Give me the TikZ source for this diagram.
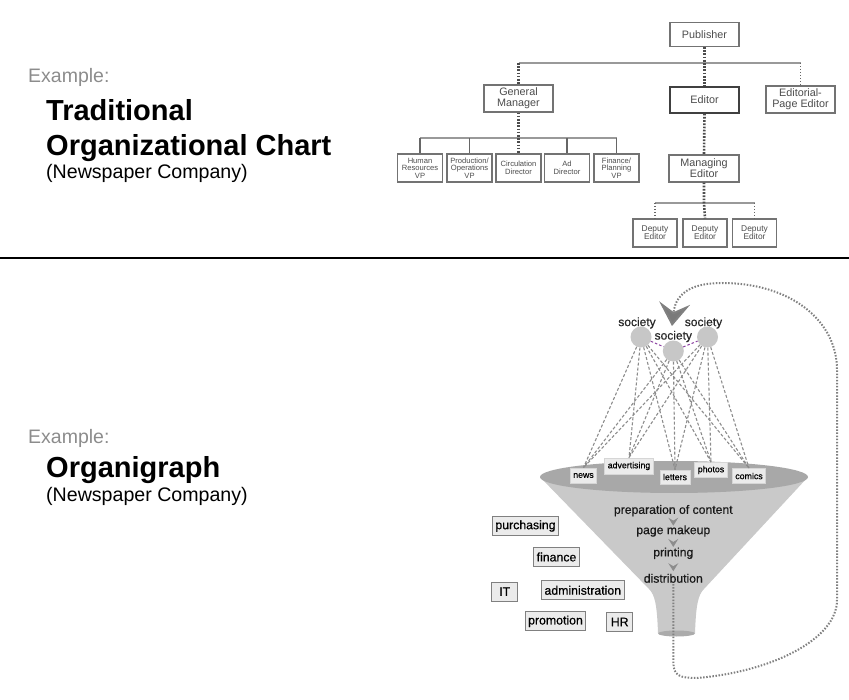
\documentclass[tikz,border=0pt]{standalone}
\usepackage{fontspec}
\setmainfont{Liberation Sans}
\newfontfamily\medsans[FakeBold=0.5]{Liberation Sans}
\usetikzlibrary{arrows.meta,calc}

\definecolor{linkpurple}{HTML}{8A3FA0}

\tikzset{
  kicker/.style={anchor=base west, inner sep=0pt, text=black!45, font=\fontsize{19.5}{22}\selectfont},
  heading/.style={anchor=base west, inner sep=0pt, font=\fontsize{29}{32}\selectfont\bfseries},
  subheading/.style={anchor=base west, inner sep=0pt, font=\fontsize{19.6}{22}\selectfont},
  orgbox/.style={draw=black!55, line width=1.1pt, fill=white, text=black!70, align=center,
    inner sep=0pt, minimum width=69pt, minimum height=26pt, font=\fontsize{10.8}{10.8}\selectfont},
  editorbox/.style={orgbox, draw=black!75, line width=1.5pt},
  smallbox/.style={orgbox, minimum width=45pt, minimum height=28pt, font=\fontsize{7.6}{7.6}\selectfont},
  deputybox/.style={orgbox, minimum width=44pt, minimum height=28pt, font=\fontsize{8.4}{8.2}\selectfont},
  busline/.style={draw=black!40, line width=1.3pt},
  stemline/.style={draw=black!60, line width=1.3pt},
  chainline/.style={draw=black!70, line width=2.6pt, dash pattern=on 1.7pt off 1.5pt},
  thinchain/.style={draw=black!60, line width=1.3pt, dash pattern=on 1.5pt off 1.5pt},
  stage/.style={inner sep=0pt, text=black!90, font=\medsans\fontsize{12.2}{14}\selectfont},
  tagbox/.style={fill=black!8, draw=black!16, line width=0.8pt, inner xsep=3pt, inner ysep=0pt,
    minimum height=15pt, font=\medsans\fontsize{8.8}{10}\selectfont},
  unitbox/.style={fill=black!8, draw=black!50, line width=1pt, inner xsep=3pt, inner ysep=0pt,
    minimum width=26pt, minimum height=19pt, font=\medsans\fontsize{12.3}{14}\selectfont},
  societydot/.style={circle, fill=black!22, minimum size=21pt, inner sep=0pt},
  societylabel/.style={inner sep=0pt, text=black!85, font=\medsans\fontsize{12}{14}\selectfont},
  feedline/.style={draw=black!45, line width=1.1pt, dash pattern=on 3pt off 2pt},
  linkline/.style={draw=linkpurple, line width=1pt, dash pattern=on 2.5pt off 2pt},
  loopline/.style={draw=black!50, line width=2pt, dash pattern=on 1.5pt off 1.6pt},
  chevron/.pic={\fill[black!45] (0,4) -- (-5,-4) -- (0,-1) -- (5,-4) -- cycle;}
}

\begin{document}
\begin{tikzpicture}[x=1pt, y=-1pt]
\useasboundingbox (0,0) rectangle (849,700);

% Titles on the left
\node[kicker] (kickertop) at (28,83) {Example:};
\node[heading] (titletopa) at (46,120.5) {Traditional};
\node[heading] (titletopb) at (46,156) {Organizational Chart};
\node[subheading] (subtop) at (46,179) {(Newspaper Company)};

\node[kicker] (kickerbot) at (28,443) {Example:};
\node[heading] (titlebot) at (46,478) {Organigraph};
\node[subheading] (subbot) at (46,501) {(Newspaper Company)};

% Draw the dividing rule
\draw[line width=2.6pt] (0,258) -- (849,258);

% Draw the boxes of the chart
\node[orgbox, minimum height=24pt] (publisher) at (704.5,34.5) {Publisher};
\node[orgbox, minimum height=27pt] (genmgr) at (518.5,98.5) {General\\Manager};
\node[editorbox] (editor) at (704.5,100) {Editor};
\node[orgbox, minimum height=27pt] (edpage) at (800.5,99.5) {Editorial-\\Page Editor};
\node[smallbox] (hrvp) at (420,168) {Human\\Resources\\VP};
\node[smallbox] (prodvp) at (469.5,168) {Production/\\Operations\\VP};
\node[smallbox] (circdir) at (518.5,168) {Circulation\\Director};
\node[smallbox] (addir) at (567,168) {Ad\\Director};
\node[smallbox] (finvp) at (616.5,168) {Finance/\\Planning\\VP};
\node[orgbox, minimum width=70pt, minimum height=27pt] (mgred) at (704,168.5) {Managing\\Editor};
\node[deputybox] (depa) at (655,233) {Deputy\\Editor};
\node[deputybox] (depb) at (705,233) {Deputy\\Editor};
\node[deputybox] (depc) at (754.5,233) {Deputy\\Editor};

% Draw the bus lines
\coordinate (topbus) at (0,63);
\coordinate (vpbus) at (0,138);
\coordinate (depbus) at (0,203);
\draw[busline] (genmgr.north |- topbus) -- (edpage.north |- topbus);
\draw[busline] (hrvp.north |- vpbus) -- (finvp.north |- vpbus);
\draw[busline] (depa.north |- depbus) -- (depc.north |- depbus);

% Draw the reporting lines
\draw[chainline] (publisher.south) -- (editor.north);
\draw[chainline] (genmgr.north |- topbus) -- (genmgr.north);
\draw[thinchain] (edpage.north |- topbus) -- (edpage.north);
\draw[chainline] (genmgr.south) -- (circdir.north);
\foreach \vp in {hrvp,prodvp,addir,finvp}
  \draw[stemline] (\vp.north |- vpbus) -- (\vp.north);
\draw[chainline] (editor.south) -- (mgred.north);
\draw[chainline] (mgred.south) -- (mgred.south |- depbus) -- (depb.north);
\draw[thinchain] (depa.north |- depbus) -- (depa.north);
\draw[thinchain] (depc.north |- depbus) -- (depc.north);

% Draw the funnel
\fill[black!21] (540,477) -- (649,589) .. controls (655,595) and (657,605) .. (658,633)
  -- (695,633) .. controls (696,605) and (698,595) .. (704,589) -- (808,477) -- cycle;
\fill[black!34] (674,477) ellipse [x radius=134, y radius=16];
\fill[black!33] (676.5,633.5) ellipse [x radius=18.5, y radius=3];

% Stages inside the funnel
\node[stage] (prep) at (673.3,510.7) {preparation of content};
\node[stage] (makeup) at (673.3,531) {page makeup};
\node[stage] (printing) at (673.3,553.3) {printing};
\node[stage] (distrib) at (673.3,578.3) {distribution};
\foreach \a/\b in {prep/makeup, makeup/printing, printing/distrib}
  \pic at ($(\a.south)!0.5!(\b.north)+(0,0.8)$) {chevron};

% Draw the feedback loop
\coordinate (loopstart) at (673.3,584);
\coordinate (bigtip) at (672,326);
\draw[loopline, -{Stealth[length=23pt, width=31pt, inset=9pt, fill=black!52]}]
  (loopstart) -- (673.3,662) .. controls (673.3,676) and (680,678) .. (697,678)
  .. controls (770,672) and (837,640) .. (837,600) -- (837,370)
  .. controls (837,320) and (790,283) .. (722,283)
  .. controls (695,283) and (676,291) .. (bigtip);

% Society and its links
\node[societydot] (socleft) at (641,337) {};
\node[societydot] (socmid) at (673.3,351) {};
\node[societydot] (socright) at (707.5,337) {};
\node[societylabel] (lblleft) at (637,323) {society};
\node[societylabel] (lblmid) at (673.3,336.5) {society};
\node[societylabel] (lblright) at (703.5,323) {society};
\draw[linkline] (socleft) -- (socmid);
\draw[linkline] (socmid) -- (socright);

% Content tags on the rim
\node[tagbox] (news) at (583.5,475.5) {news};
\node[tagbox, minimum height=16pt] (advertising) at (629,466) {advertising};
\node[tagbox, minimum height=14pt] (letters) at (675,477) {letters};
\node[tagbox] (photos) at (711,470) {photos};
\node[tagbox] (comics) at (749,476) {comics};
\foreach \s in {socleft,socmid,socright}
  \foreach \t in {news,advertising,letters,photos,comics}
    \draw[feedline] (\s) -- (\t.north);

% Support units
\node[unitbox] (purchasing) at (525.5,526) {purchasing};
\node[unitbox] (finance) at (556.5,557) {finance};
\node[unitbox] (itunit) at (504.7,591.7) {IT};
\node[unitbox] (admin) at (582.8,590.3) {administration};
\node[unitbox] (promotion) at (555.5,621.3) {promotion};
\node[unitbox] (hrunit) at (619.7,622) {HR};
\end{tikzpicture}
\end{document}
